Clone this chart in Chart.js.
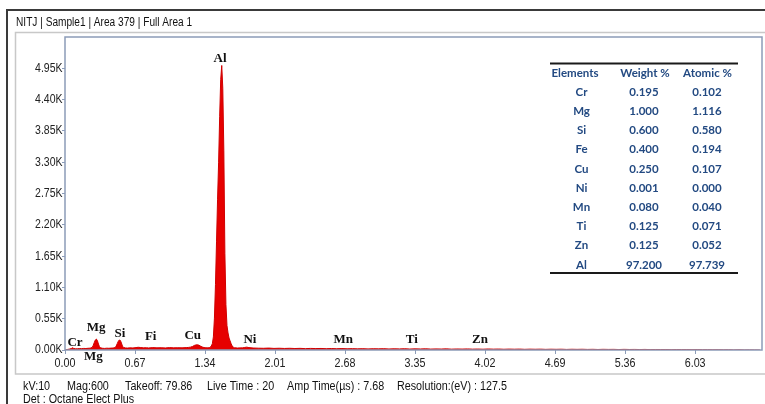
<!DOCTYPE html>
<html><head><meta charset="utf-8">
<script src="https://cdn.jsdelivr.net/npm/chart.js@4.4.0/dist/chart.umd.min.js"></script>
<style>html,body{margin:0;padding:0;background:#fff;}#wrap{position:relative;width:765px;height:404px;}</style>
</head><body><div id="wrap"><canvas id="c" width="765" height="404"></canvas></div>
<script>
// ---------- DATA ----------
const titleText = "NITJ | Sample1 | Area 379 | Full Area 1";
const infoLine1 = ["kV:10", "Mag:600", "Takeoff: 79.86", "Live Time : 20", "Amp Time(\u00b5s) : 7.68", "Resolution:(eV) : 127.5"];
const infoLine2 = ["Det : Octane Elect Plus"];

const xTickValues = [0.00, 0.67, 1.34, 2.01, 2.68, 3.35, 4.02, 4.69, 5.36, 6.03];
const yTickValues = [0, 550, 1100, 1650, 2200, 2750, 3300, 3850, 4400, 4950];

// spectrum: energy (keV) and counts
const energy = [
  0.00,0.02,0.04,0.06,0.07,0.08,0.10,0.12,0.14,0.16,0.18,0.20,0.22,
  0.24,0.26,0.27,0.28,0.29,0.30,0.31,0.32,0.33,0.34,0.36,0.38,0.40,0.42,0.44,
  0.46,0.48,0.49,0.50,0.51,0.52,0.53,0.54,0.55,0.56,0.58,0.60,0.62,0.65,0.68,
  0.70,0.72,0.75,0.78,0.80,0.84,0.88,0.92,0.96,1.00,1.04,1.08,1.12,1.16,
  1.18,1.20,1.22,1.24,1.26,1.28,1.30,1.32,1.34,1.36,
  1.38,1.39,1.40,1.41,1.42,1.43,1.44,1.45,1.46,1.47,1.48,1.49,1.50,1.51,1.52,1.53,1.54,1.55,1.56,1.57,1.58,1.59,1.60,1.61,1.62,
  1.65,1.70,1.72,1.74,1.76,1.80,
  1.85,1.90,1.95,2.00,2.05,2.10,2.15,2.20,2.25,2.30,2.35,2.40,2.45,2.50,2.55,2.60,2.65,2.70,2.75,2.80,
  2.85,2.90,2.95,3.00,3.05,3.10,3.15,3.20,3.25,3.30,3.35,3.40,3.45,3.50,3.55,3.60,3.65,3.70,3.75,3.80,
  3.85,3.90,3.95,4.00,4.05,4.10,4.15,4.20,4.25,4.30,4.35,4.40,4.45,4.50,4.55,4.60,4.65,4.70,4.75,4.80,
  4.85,4.90,4.95,5.00,5.05,5.10,5.15,5.20,5.25,5.30,5.35,5.40,5.45,5.50,5.55,5.60,5.65,5.70,5.75,5.80,
  5.85,5.90,5.95,6.00,6.05,6.10,6.15,6.20,6.25,6.30,6.35,6.40,6.45,6.50,6.55,6.60,6.65
];
const counts = [
  0,8,15,25,40,30,20,22,25,24,28,26,30,
  32,45,80,130,175,192,165,105,58,38,30,28,32,30,33,
  35,42,70,112,152,176,168,122,68,45,36,34,38,36,42,
  48,44,38,40,36,42,38,40,36,42,38,40,38,42,
  45,50,62,82,92,86,64,48,40,38,
  40,50,70,110,230,560,1150,1900,2650,3300,4100,4750,5000,4600,3500,1700,800,430,300,210,160,110,70,50,40,
  35,38,45,50,42,35,
  32,30,34,28,31,27,30,26,29,24,28,25,27,23,26,22,25,21,24,20,
  23,19,22,20,23,18,21,19,22,17,20,18,21,16,19,17,20,15,18,16,
  19,15,17,14,18,15,17,13,16,14,16,12,15,13,15,11,14,12,14,10,
  13,11,13,10,12,9,12,10,11,8,11,9,10,8,10,7,9,8,9,6,
  8,7,8,6,7,5,6,4,5,3,4,2,3,1,2,1,0
];

// element markers on the spectrum (energy keV, counts at label centre)
const markerNames  = ["Al", "Mg", "Si", "Fi", "Cu", "Ni", "Mn", "Ti", "Zn", "Cr", "Mg"];
const markerEnergy = [1.484, 0.297, 0.526, 0.820, 1.222, 1.770, 2.663, 3.318, 3.971, 0.096, 0.271];
const markerCounts = [5113, 387, 281, 234, 246, 188, 188, 176, 188, 128, -118];

// quantification table
const tableHeaders = ["Elements", "Weight %", "Atomic %"];
const tableElements = ["Cr", "Mg", "Si", "Fe", "Cu", "Ni", "Mn", "Ti", "Zn", "Al"];
const weightPct = ["0.195", "1.000", "0.600", "0.400", "0.250", "0.001", "0.080", "0.125", "0.125", "97.200"];
const atomicPct = ["0.102", "1.116", "0.580", "0.194", "0.107", "0.000", "0.040", "0.071", "0.052", "97.739"];

// ---------- RENDER ----------
const SANS = "'Liberation Sans',Arial,sans-serif";
const points = energy.map((e, i) => ({ x: e, y: counts[i] }));

function narrowText(ctx, text, x, y, align, sx) {
  ctx.save();
  ctx.translate(x, y);
  ctx.scale(sx, 1);
  ctx.textAlign = align;
  ctx.fillText(text, 0, 0);
  ctx.restore();
}

const decor = {
  id: 'decor',
  beforeDraw(chart) {
    const ctx = chart.ctx;
    ctx.save();
    ctx.fillStyle = '#fff';
    ctx.fillRect(0, 0, 765, 404);
    // outer frame
    ctx.strokeStyle = '#3a3a3a';
    ctx.lineWidth = 2;
    ctx.beginPath();
    ctx.moveTo(7, 404); ctx.lineTo(7, 10); ctx.lineTo(765, 10);
    ctx.stroke();
    // grey panel
    ctx.strokeStyle = '#c8c8c8';
    ctx.lineWidth = 1.5;
    ctx.beginPath();
    ctx.moveTo(766, 32.5); ctx.lineTo(15.5, 32.5); ctx.lineTo(15.5, 374); ctx.lineTo(766, 374);
    ctx.stroke();
    // title
    ctx.fillStyle = '#111';
    ctx.font = "12.5px " + SANS;
    ctx.textBaseline = 'middle';
    narrowText(ctx, titleText, 16, 22.5, 'left', 0.81);
    // info lines
    const infoX = [23, 67, 125, 207, 287, 397];
    infoLine1.forEach((t, i) => narrowText(ctx, t, infoX[i], 386.5, 'left', 0.86));
    infoLine2.forEach((t) => narrowText(ctx, t, 23, 399.5, 'left', 0.86));
    ctx.restore();
  },
  afterDatasetsDraw(chart) {
    const ctx = chart.ctx;
    const a = chart.chartArea;
    const xs = chart.scales.x, ys = chart.scales.y;
    ctx.save();
    // plot frame
    ctx.strokeStyle = '#8c9cb8';
    ctx.lineWidth = 1.5;
    ctx.strokeRect(a.left, a.top, a.right - a.left, a.bottom - a.top);
    // tick labels (narrow style)
    ctx.fillStyle = '#222';
    ctx.font = "12.5px " + SANS;
    ctx.textBaseline = 'middle';
    xs.ticks.forEach(t => narrowText(ctx, Number(t.value).toFixed(2), xs.getPixelForValue(t.value), 363.5, 'center', 0.86));
    ys.ticks.forEach(t => narrowText(ctx, (t.value / 1000).toFixed(2) + 'K', a.left - 2.5, ys.getPixelForValue(t.value), 'right', 0.84));
    // element markers
    ctx.fillStyle = '#111';
    ctx.font = "bold 13px 'Liberation Serif','Times New Roman',serif";
    ctx.textAlign = 'center';
    ctx.textBaseline = 'middle';
    markerNames.forEach((n, i) => {
      ctx.fillText(n, xs.getPixelForValue(markerEnergy[i]), ys.getPixelForValue(markerCounts[i]));
    });
    // table
    ctx.strokeStyle = '#1a1a1a';
    ctx.lineWidth = 2;
    ctx.beginPath();
    ctx.moveTo(550, 63.5); ctx.lineTo(738, 63.5);
    ctx.moveTo(550, 273); ctx.lineTo(738, 273);
    ctx.stroke();
    ctx.fillStyle = '#234a82';
    ctx.font = "bold 11.5px Lato,'Open Sans',sans-serif";
    const colX = [575, 645, 707.5];
    tableHeaders.forEach((h, i) => ctx.fillText(h, colX[i], 73.5));
    const rowX = [581.5, 644, 707];
    tableElements.forEach((el, r) => {
      const y = 92 + r * 19.2;
      ctx.fillText(el, rowX[0], y);
      ctx.fillText(weightPct[r], rowX[1], y);
      ctx.fillText(atomicPct[r], rowX[2], y);
    });
    ctx.restore();
  }
};

new Chart(document.getElementById('c'), {
  type: 'line',
  data: {
    datasets: [{
      data: points,
      borderColor: '#d10000',
      backgroundColor: '#e60000',
      borderWidth: 1,
      pointRadius: 0,
      fill: 'origin',
      tension: 0
    }]
  },
  options: {
    responsive: false,
    animation: false,
    devicePixelRatio: 1,
    layout: { padding: { top: 37, right: 3, left: 0, bottom: 0 } },
    plugins: { legend: { display: false }, tooltip: { enabled: false } },
    scales: {
      x: {
        type: 'linear',
        min: 0, max: 6.67,
        afterBuildTicks: s => { s.ticks = xTickValues.map(v => ({ value: v })); },
        afterFit: s => { s.height = 54; },
        ticks: { display: false },
        grid: { drawOnChartArea: false, drawTicks: true, tickLength: 4, color: '#8c9cb8' },
        border: { display: false }
      },
      y: {
        min: 0, max: 5500,
        afterBuildTicks: s => { s.ticks = yTickValues.map(v => ({ value: v })); },
        afterFit: s => { s.width = 65; },
        ticks: { display: false },
        grid: { drawOnChartArea: false, drawTicks: true, tickLength: 3, color: '#8c9cb8' },
        border: { display: false }
      }
    }
  },
  plugins: [decor]
});
</script>
</body></html>
